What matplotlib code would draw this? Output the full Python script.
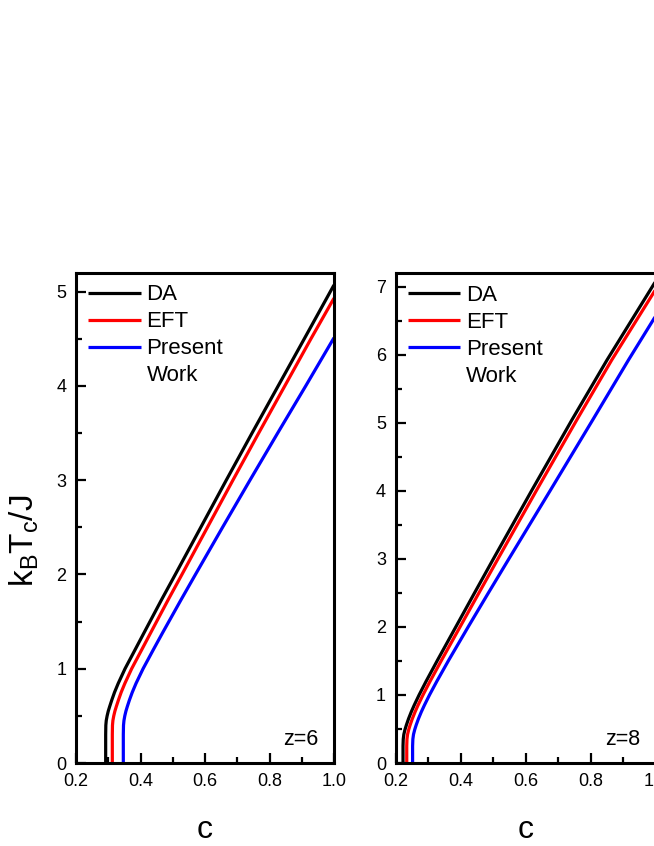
import matplotlib
matplotlib.use("Agg")
import matplotlib.pyplot as plt
from matplotlib.lines import Line2D
from matplotlib.ticker import MultipleLocator

plt.rcParams['font.family'] = ['Liberation Sans', 'DejaVu Sans']
plt.rcParams['mathtext.default'] = 'regular'

# z=6 panel: critical temperature kTc/J versus concentration c
t_da_6 = [0.0, 0.30, 0.40, 0.45, 0.50, 0.55, 0.60, 0.668, 0.75, 0.845, 1.0, 1.2, 1.375,
          1.73, 2.0, 2.5, 3.0, 3.5, 4.0, 4.5, 5.07]
c_da_6 = [0.292, 0.292, 0.2925, 0.2938, 0.2965, 0.300, 0.3045, 0.311, 0.3195, 0.331, 0.352, 0.383, 0.410,
          0.465, 0.508, 0.587, 0.666, 0.746, 0.827, 0.908, 1.0]
t_eft_6 = [0.0, 0.30, 0.40, 0.45, 0.50, 0.55, 0.60, 0.668, 0.75, 0.845, 1.0, 1.2, 1.375,
           1.73, 2.0, 2.5, 3.0, 3.5, 4.0, 4.5, 4.93]
c_eft_6 = [0.3126, 0.3126, 0.3131, 0.3144, 0.3171, 0.3206, 0.3251, 0.3316, 0.3401, 0.3516, 0.3726, 0.4036, 0.4306,
           0.4856, 0.5286, 0.6076, 0.6866, 0.7666, 0.8476, 0.9286, 1.0]
t_pw_6 = [0.0, 0.30, 0.40, 0.45, 0.50, 0.55, 0.60, 0.668, 0.75, 0.845, 1.0, 1.2, 1.375,
          1.73, 2.0, 2.5, 3.0, 3.5, 4.0, 4.51]
c_pw_6 = [0.3467, 0.3467, 0.3473, 0.3487, 0.3513, 0.3548, 0.3592, 0.3657, 0.3745, 0.3862, 0.408, 0.4395, 0.4675,
          0.5255, 0.5705, 0.6545, 0.7395, 0.8255, 0.9125, 1.0]

# z=8 panel
t_da_8 = [0.0, 0.25, 0.35, 0.42, 0.49, 0.56, 0.65, 0.75, 0.85, 1.0, 1.2, 1.51,
          2.0, 2.49, 2.99, 4.0, 5.04, 5.92, 7.08]
c_da_8 = [0.2225, 0.2225, 0.2232, 0.2250, 0.2285, 0.2330, 0.2395, 0.2478, 0.2570, 0.2720, 0.2935, 0.3285,
          0.385, 0.4415, 0.4995, 0.618, 0.742, 0.850, 1.0]
t_eft_8 = [0.0, 0.25, 0.35, 0.42, 0.49, 0.56, 0.65, 0.75, 0.85, 1.0, 1.2, 1.51,
           2.0, 2.49, 2.99, 4.0, 5.04, 5.92, 6.96]
c_eft_8 = [0.234, 0.234, 0.2347, 0.2365, 0.2400, 0.2445, 0.2511, 0.2595, 0.2688, 0.2840, 0.3057, 0.3410,
           0.3980, 0.4550, 0.5135, 0.6325, 0.7570, 0.8645, 1.0]
t_pw_8 = [0.0, 0.25, 0.35, 0.42, 0.49, 0.56, 0.65, 0.75, 0.85, 1.0, 1.2, 1.51,
          2.0, 2.49, 2.99, 4.0, 5.04, 5.92, 6.57]
c_pw_8 = [0.252, 0.252, 0.2528, 0.2548, 0.2585, 0.2632, 0.2700, 0.2787, 0.2884, 0.3040, 0.3265, 0.3630,
          0.4230, 0.4840, 0.5470, 0.6750, 0.8060, 0.9160, 1.0]

labels = ['DA', 'EFT', 'Present', 'Work']
colors = ['black', 'red', 'blue']

fig = plt.figure(figsize=(6.54, 8.46), dpi=100)
ax1 = fig.add_axes([76/654, 83/846, 258/654, 490.3/846])
ax2 = fig.add_axes([395.7/654, 83/846, 260/654, 490/846])

panels = [
    (ax1, [(c_da_6, t_da_6), (c_eft_6, t_eft_6), (c_pw_6, t_pw_6)], 5.2, 'z=6'),
    (ax2, [(c_da_8, t_da_8), (c_eft_8, t_eft_8), (c_pw_8, t_pw_8)], 7.2, 'z=8'),
]

for ax, curves, ytop, ztxt in panels:
    handles = []
    for (cx, ty), col in zip(curves, colors):
        h, = ax.plot(cx, ty, color=col, lw=2.3, solid_capstyle='butt', solid_joinstyle='round')
        handles.append(h)
    handles.append(Line2D([], [], color='none'))
    ax.set_xlim(0.2, 1.0)
    ax.set_ylim(0, ytop)
    ax.xaxis.set_major_locator(MultipleLocator(0.2))
    ax.xaxis.set_minor_locator(MultipleLocator(0.1))
    ax.yaxis.set_major_locator(MultipleLocator(1))
    ax.yaxis.set_minor_locator(MultipleLocator(0.5))
    ax.tick_params(which='both', direction='in', width=1.6, labelsize=13)
    ax.tick_params(which='major', length=7, pad=7)
    ax.tick_params(which='minor', length=4)
    for s in ax.spines.values():
        s.set_linewidth(2.2)
    ax.set_xlabel('c', fontsize=23, labelpad=18)
    ax.text(0.94, 0.036, ztxt, transform=ax.transAxes, ha='right', va='baseline', fontsize=15.5)
    ax.legend(handles, labels, loc='upper left', frameon=False, fontsize=16,
              bbox_to_anchor=(0.048, 0.976), borderpad=0, borderaxespad=0,
              handlelength=2.35, handletextpad=0.27, labelspacing=0.27)

ax1.set_ylabel(r'$k_BT_c/J$', fontsize=24)
ax1.yaxis.set_label_coords(-0.135, 0.453)

fig.savefig('out.png', dpi=100)
